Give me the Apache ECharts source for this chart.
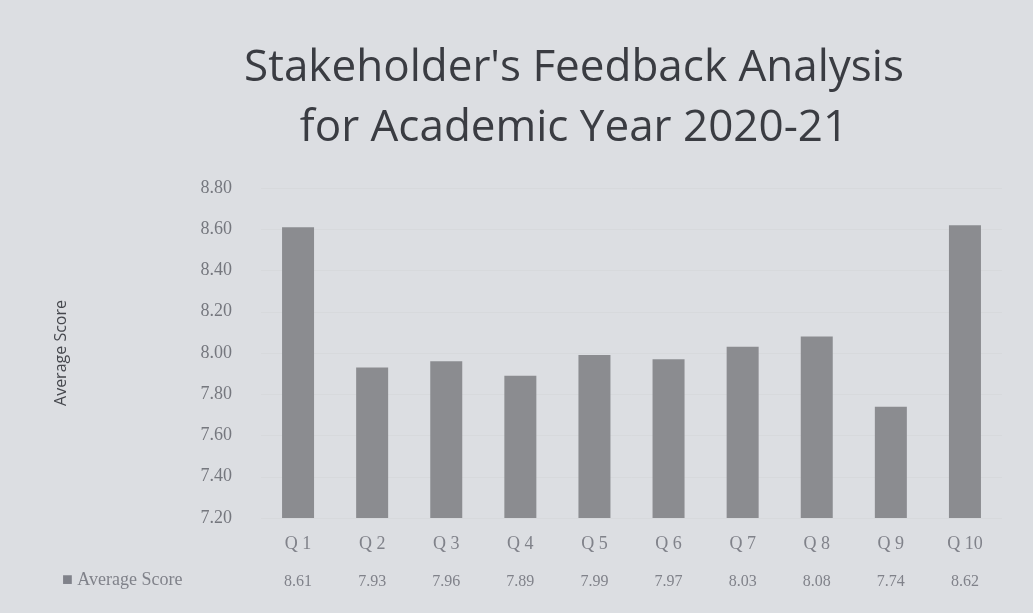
<!DOCTYPE html>
<html>
<head>
<meta charset="utf-8">
<script src="https://cdn.jsdelivr.net/npm/echarts@6/dist/echarts.min.js"></script>
<style>
  html, body { margin: 0; padding: 0; background: #dcdee2; }
  #chart { width: 1033px; height: 613px; }
</style>
</head>
<body>
<div id="chart"></div>
<script>
// 数据
const categories = ['Q 1', 'Q 2', 'Q 3', 'Q 4', 'Q 5', 'Q 6', 'Q 7', 'Q 8', 'Q 9', 'Q 10']
const scores = [8.61, 7.93, 7.96, 7.89, 7.99, 7.97, 8.03, 8.08, 7.74, 8.62]
const seriesName = 'Average Score'
const titleLines = ["Stakeholder's Feedback Analysis", 'for Academic Year 2020-21']

const myEcharts = echarts.init(document.getElementById('chart'))
const option = {
  backgroundColor: '#dcdee2',
  title: {
    text: titleLines.join('\n'),
    left: 569,
    top: 33,
    textAlign: 'center',
    textStyle: {
      fontFamily: 'Open Sans',
      fontSize: 44,
      fontWeight: 'normal',
      color: '#3a3c42',
      lineHeight: 60
    }
  },
  grid: {
    left: 261,
    right: 31,
    top: 188,
    bottom: 95
  },
  xAxis: {
    type: 'category',
    data: categories,
    axisLine: { show: false },
    axisTick: { show: false },
    axisLabel: {
      margin: 8,
      formatter (value, idx) {
        // 类别 + 数据表的数值
        return '{q|' + value + '}\n{v|' + scores[idx].toFixed(2) + '}'
      },
      rich: {
        q: { fontFamily: 'Liberation Serif', fontSize: 18, color: '#80828a', lineHeight: 37 },
        v: { fontFamily: 'Liberation Serif', fontSize: 16, color: '#80828a', lineHeight: 37 }
      }
    }
  },
  yAxis: {
    type: 'value',
    min: 7.2,
    max: 8.8,
    interval: 0.2,
    name: seriesName,
    nameLocation: 'middle',
    nameGap: 192,
    nameTextStyle: { fontFamily: 'Open Sans', fontSize: 16, color: '#45474d' },
    axisLine: { show: false },
    axisTick: { show: false },
    splitLine: { show: true, lineStyle: { color: '#d7d9dc', width: 1 } },
    axisLabel: {
      margin: 29,
      fontFamily: 'Liberation Serif',
      fontSize: 18,
      color: '#75777e',
      formatter (v) { return v.toFixed(2) }
    }
  },
  graphic: [{
    type: 'text',
    left: 62,
    top: 571,
    style: {
      text: '■ ' + seriesName,
      font: '18px "Liberation Serif"',
      fill: '#80828a'
    }
  }],
  series: [{
    name: seriesName,
    type: 'bar',
    data: scores,
    barWidth: 32,
    itemStyle: { color: '#8b8c90' }
  }]
}
myEcharts.setOption(option)
</script>
</body>
</html>
